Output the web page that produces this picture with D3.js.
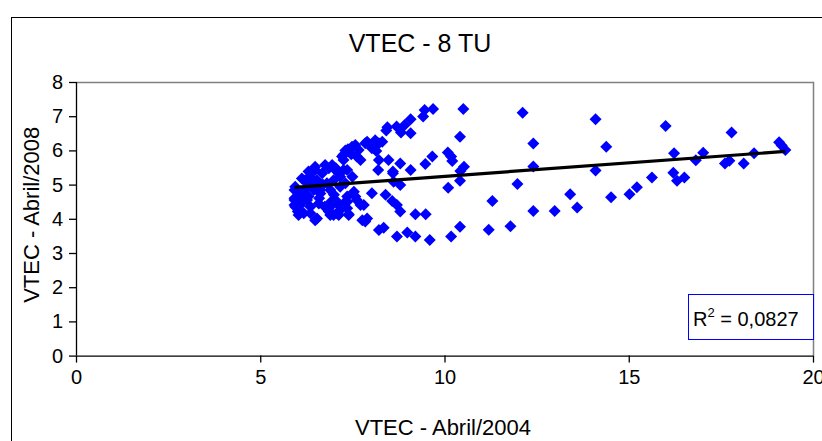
<!DOCTYPE html>
<html>
<head>
<meta charset="utf-8">
<script src="https://cdn.jsdelivr.net/npm/d3@7"></script>
<style>
  html, body { margin: 0; padding: 0; background: #fff; }
  svg { display: block; font-family: Arial, "Liberation Sans", sans-serif; }
</style>
</head>
<body>
<svg id="chart" width="822" height="441"></svg>
<script>
// ---- data ----
const titleText = "VTEC - 8 TU";
const xAxisTitle = "VTEC - Abril/2004";
const yAxisTitle = "VTEC - Abril/2008";
const r2Text = "0,0827";
const xTicks = [0, 5, 10, 15, 20];
const yTicks = [0, 1, 2, 3, 4, 5, 6, 7, 8];

const xValues = [
  // right part
  14.10, 14.39, 14.10, 12.99, 13.41, 13.60, 14.52, 15.02, 15.22, 15.63, 16.00, 16.23, 16.21, 16.31, 16.51,
  16.82, 17.02, 17.61, 17.73, 17.79, 18.12, 18.40, 19.08, 19.15, 19.25,
  // 10 - 12.5
  10.51, 12.12, 10.42, 12.41, 10.09, 10.18, 10.21, 10.53, 10.43, 10.42, 10.10, 12.41, 11.98, 11.30, 12.41,
  10.42, 10.18, 11.20, 11.79,
  // 8.2 - 10
  9.46, 9.69, 9.42, 9.67, 9.48, 9.49, 9.60, 9.21, 9.21, 8.99, 8.71, 8.35, 8.22,
  9.08, 8.92, 8.70, 8.45, 8.42, 8.82, 9.08,
  9.08, 8.80, 8.60, 8.60, 8.62, 8.80, 8.58, 8.71, 8.80, 8.40, 8.03,
  // upper arm
  7.90, 8.12, 8.22, 8.31, 8.03, 8.15, 7.49, 7.38, 7.67, 7.62, 7.72, 7.26, 8.22, 8.48, 8.20, 7.08, 7.50,
  7.26, 7.58, 7.85, 7.47, 7.05,
  // lower part 7 - 8
  7.54, 7.58, 7.04, 7.31, 7.81, 7.08, 7.40, 7.36, 7.72, 7.77, 7.62, 7.17, 7.85, 7.90,
  // dense cluster
  5.95, 5.93, 5.93, 6.04, 6.09, 6.22, 6.36, 6.49, 6.68, 6.86, 6.95, 6.49, 6.31, 6.63, 6.90, 7.13, 7.26,
  6.90, 6.90, 7.13, 7.13, 7.40, 5.93, 5.93, 5.95, 6.02, 6.18, 6.36, 6.54, 6.92, 7.04, 6.86, 6.99, 7.17,
  7.36, 7.36, 6.27, 6.09, 6.45, 6.63, 6.81, 6.99, 7.17, 6.54, 6.27, 7.08, 7.36, 7.31, 6.36, 6.00, 6.59,
  6.13, 6.31, 6.49, 6.76, 7.22, 7.31,
  6.15, 6.40, 6.70, 6.60, 6.20, 7.00, 6.75
];
const yValues = [
  // right part
  6.91, 6.11, 5.41, 4.23, 4.72, 4.33, 4.63, 4.72, 4.92, 5.21, 6.71, 5.92, 5.35, 5.11, 5.21,
  5.71, 5.93, 5.62, 5.70, 6.52, 5.62, 5.92, 6.24, 6.14, 6.01,
  // 10 - 12.5
  7.21, 7.10, 6.40, 6.20, 5.94, 5.82, 5.69, 5.52, 5.40, 5.11, 4.91, 5.53, 5.02, 4.52, 4.23,
  3.77, 3.48, 3.68, 3.78,
  // 8.2 - 10
  7.18, 7.21, 6.99, 5.82, 5.60, 4.13, 3.38, 4.13, 3.48, 3.60, 3.48, 3.74, 3.67,
  6.91, 6.74, 6.70, 6.68, 6.58, 6.52, 6.50,
  5.43, 5.62, 5.38, 5.33, 5.08, 4.99, 4.52, 4.40, 4.21, 4.70, 4.75,
  // upper arm
  6.25, 6.30, 6.21, 6.25, 6.06, 5.98, 6.11, 6.03, 6.01, 5.82, 5.72, 5.72, 5.72, 5.72, 5.43, 5.38, 5.23,
  5.87, 6.16, 6.21, 5.89, 5.48,
  // lower part 7 - 8
  4.79, 4.65, 4.50, 4.50, 4.40, 4.16, 4.13, 4.50, 4.40, 3.96, 4.55, 4.94, 3.92, 4.01,
  // dense cluster
  4.94, 4.60, 4.40, 4.11, 4.40, 5.13, 5.23, 5.43, 5.33, 5.48, 5.57, 3.96, 4.65, 4.84, 4.84, 5.33, 5.43,
  4.35, 4.11, 4.40, 4.11, 4.11, 4.84, 4.55, 4.35, 4.21, 4.16, 4.16, 4.01, 4.50, 4.55, 4.21, 4.11, 4.26,
  4.31, 4.65, 4.55, 4.74, 4.84, 4.74, 5.04, 5.13, 5.23, 5.13, 5.04, 5.43, 5.43, 5.04, 4.35, 4.45, 4.45,
  5.18, 5.38, 5.52, 5.57, 5.82, 6.00,
  4.55, 4.95, 5.00, 4.60, 4.85, 4.70, 4.35
];
const trendX = [5.93, 19.25];
const trendY = [4.92, 5.97];

// ---- layout ----
const svg = d3.select("#chart");
const plot = { left: 76, right: 813, top: 82, bottom: 355.6 };

const x = d3.scaleLinear().domain([0, 20]).range([plot.left, plot.right]);
const y = d3.scaleLinear().domain([0, 8]).range([plot.bottom, plot.top]);

// outer chart frame
svg.append("rect")
  .attr("x", 11.5).attr("y", 17.5)
  .attr("width", 900).attr("height", 600)
  .attr("fill", "#fff").attr("stroke", "#000").attr("stroke-width", 1);

// plot area top & right (gray)
svg.append("path")
  .attr("d", `M${plot.left},${plot.top + 0.5}H${plot.right + 0.5}V${plot.bottom}`)
  .attr("fill", "none").attr("stroke", "#808080").attr("stroke-width", 1.5);

// title
svg.append("text")
  .attr("x", 420).attr("y", 52)
  .attr("text-anchor", "middle")
  .attr("font-size", 25)
  .text(titleText);

// axes
const xAxis = d3.axisBottom(x).tickValues(xTicks).tickSize(7).tickPadding(7).tickFormat(d3.format("d"));
const yAxis = d3.axisLeft(y).tickValues(yTicks).tickSize(7).tickPadding(6).tickFormat(d3.format("d"));

const gx = svg.append("g").attr("transform", `translate(0,${plot.bottom})`).call(xAxis);
const gy = svg.append("g").attr("transform", `translate(${plot.left},0)`).call(yAxis);
[gx, gy].forEach(g => {
  g.select(".domain").attr("stroke", "#000").attr("stroke-width", 1.3);
  g.selectAll(".tick line").attr("stroke", "#000").attr("stroke-width", 1.3);
  g.selectAll(".tick text").attr("font-size", 20).attr("font-family", "Arial, 'Liberation Sans', sans-serif").attr("fill", "#000");
});
gx.select(".domain").attr("d", `M${plot.left},0.5H${plot.right + 0.5}`);
gy.select(".domain").attr("d", `M0.5,${plot.top}V${plot.bottom}`);

// axis titles
svg.append("text")
  .attr("x", 443).attr("y", 435)
  .attr("text-anchor", "middle")
  .attr("font-size", 22)
  .text(xAxisTitle);

svg.append("text")
  .attr("transform", `translate(39,${(plot.top + plot.bottom) / 2 - 4}) rotate(-90)`)
  .attr("text-anchor", "middle")
  .attr("font-size", 22)
  .text(yAxisTitle);

// points
const pts = xValues.map((v, i) => ({ x: v, y: yValues[i] }));
const diamond = d3.symbol().type(d3.symbolSquare).size(72);
svg.append("g").selectAll("path")
  .data(pts)
  .join("path")
  .attr("d", diamond)
  .attr("transform", d => `translate(${x(d.x)},${y(d.y)}) rotate(45)`)
  .attr("fill", "#0000ff");

// trendline
const line = d3.line().x(d => x(d[0])).y(d => y(d[1]));
svg.append("path")
  .datum(trendX.map((v, i) => [v, trendY[i]]))
  .attr("d", line)
  .attr("fill", "none").attr("stroke", "#000").attr("stroke-width", 3.2);

// R² box
svg.append("rect")
  .attr("x", 688.5).attr("y", 294.5).attr("width", 125).attr("height", 45)
  .attr("fill", "#fff").attr("stroke", "#0000ff").attr("stroke-width", 1);
const rt = svg.append("text").attr("x", 693).attr("y", 326).attr("font-size", 20).attr("fill", "#000");
rt.append("tspan").text("R");
rt.append("tspan").attr("dy", -9).attr("font-size", 13).text("2");
rt.append("tspan").attr("dy", 9).text(" = " + r2Text);
</script>
</body>
</html>
